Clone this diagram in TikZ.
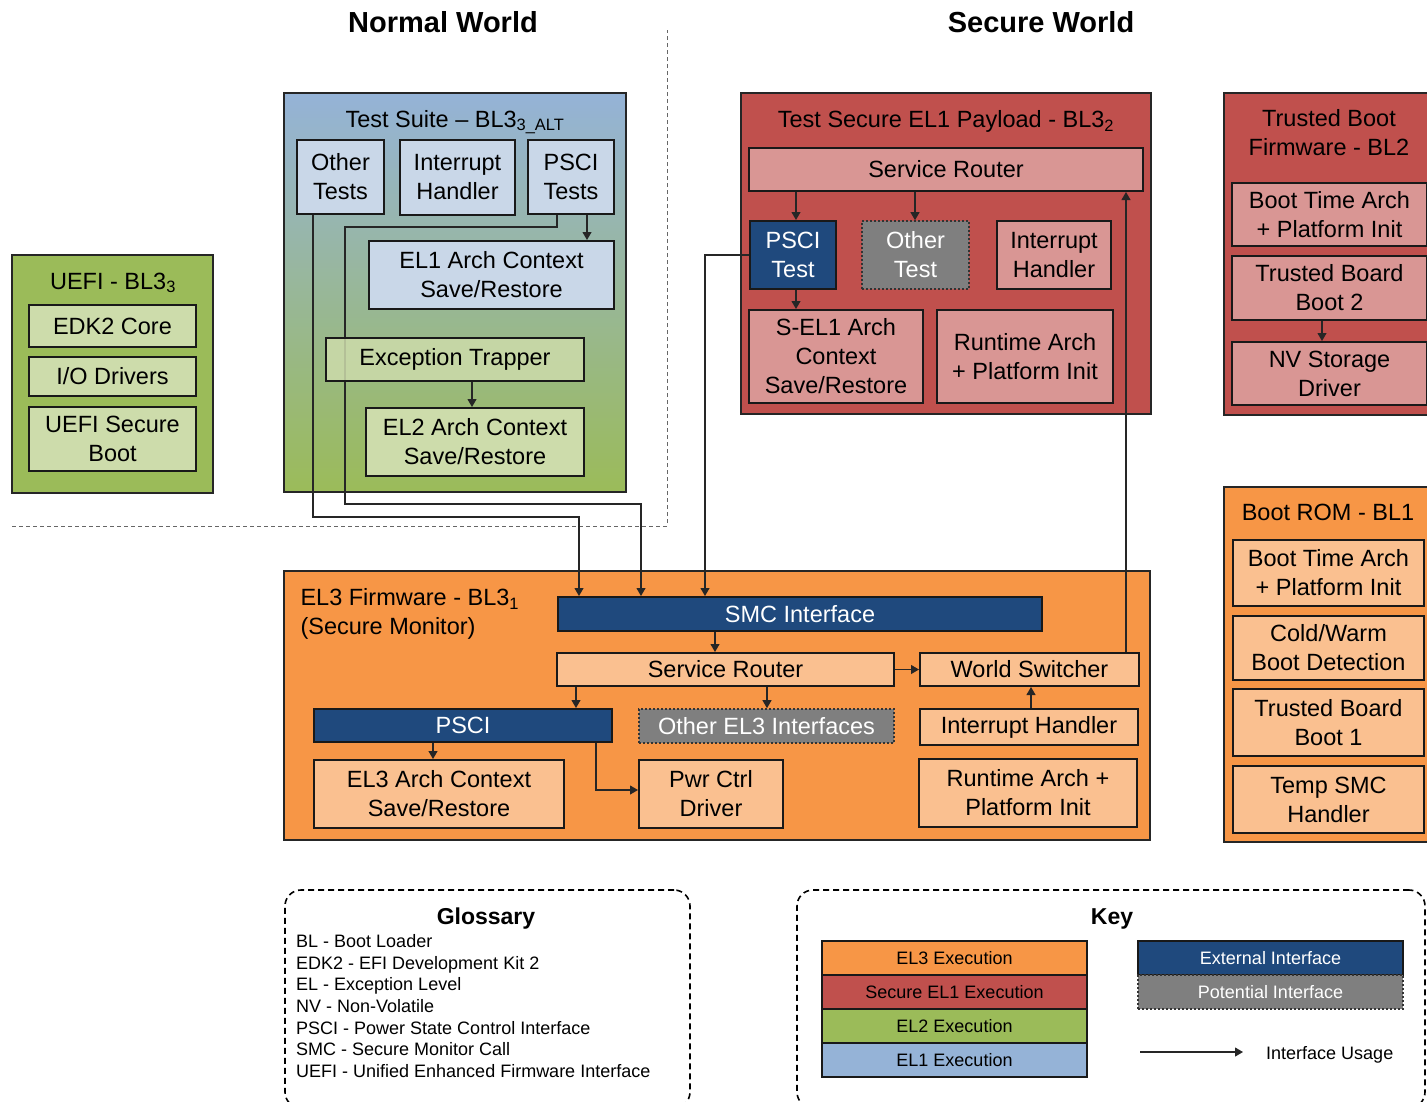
\documentclass[tikz,border=0pt]{standalone}
\usepackage{fontspec}
\setmainfont{Liberation Sans}
\usetikzlibrary{arrows.meta}
\definecolor{orng}{HTML}{F79646}
\definecolor{lorng}{HTML}{FAC090}
\definecolor{redc}{HTML}{C0504D}
\definecolor{pinkc}{HTML}{D99694}
\definecolor{grnc}{HTML}{9BBB59}
\definecolor{lgrn}{HTML}{CDDCAB}
\definecolor{bluec}{HTML}{95B3D7}
\definecolor{lblue}{HTML}{C9D7E8}
\definecolor{dblue}{HTML}{1F497D}
\definecolor{grayc}{HTML}{7F7F7F}
\begin{document}
\begin{tikzpicture}[x=1pt,y=-1pt,
  lbl/.style={font=\fontsize{23.5}{29}\selectfont},
  sml/.style={font=\fontsize{18}{21.7}\selectfont},
  box/.style={draw=black!90, line width=2pt, inner sep=0pt, align=center, lbl},
  cont/.style={draw=black!85, line width=2pt, inner sep=0pt},
  conn/.style={draw=black!85, line width=1.1pt, -{Triangle[length=8pt,width=9pt]}},
  dotbox/.style={box, draw=black!80, line width=1.6pt, dash pattern=on 1.6pt off 2.4pt, fill=grayc, text=white},
  sz/.style 2 args={minimum width=#1pt, minimum height=#2pt},
  keybox/.style={draw=black!90, line width=2pt, inner sep=0pt, sml, minimum width=265pt, minimum height=34pt},
  framebox/.style={draw=black, line width=1.6pt, dash pattern=on 6pt off 4pt, rounded corners=16pt, inner sep=0pt},
  head/.style={font=\fontsize{29}{34}\selectfont\bfseries},
  subhead/.style={font=\fontsize{23}{28}\selectfont\bfseries}]
\path[use as bounding box, clip] (0,0) rectangle (1427,1101);

% headers
\node[head] (nw) at (443,22) {Normal World};
\node[head] (sw) at (1041,22) {Secure World};

% separators
\draw[black!60, line width=1pt, dash pattern=on 4pt off 3pt] (12,526) -- (667,526) -- (667,30);

% containers
\node[cont, fill=grnc, sz={201}{238}] (uefi) at (112.5,374) {};
\node[cont, top color=bluec, bottom color=grnc, sz={342}{399}] (ts) at (455,292.5) {};
\node[cont, fill=redc, sz={410}{321}] (tsp) at (946,253.5) {};
\node[cont, fill=redc, sz={212}{322}] (bl2) at (1330,254) {};
\node[cont, fill=orng, sz={212}{355}] (bl1) at (1330,664.5) {};
\node[cont, fill=orng, sz={866}{269}] (el3) at (717,705.5) {};

% titles
\node[lbl] (uefit) at (113,283) {UEFI - BL3\textsubscript{3}};
\node[lbl] (tst) at (455,122) {Test Suite – BL3\textsubscript{3\_ALT}};
\node[lbl] (tspt) at (946,121.5) {Test Secure EL1 Payload - BL3\textsubscript{2}};
\node[lbl, align=center] (bl2t) at (1329,133) {Trusted Boot\\Firmware - BL2};
\node[lbl] (bl1t) at (1328,512) {Boot ROM - BL1};
\node[lbl, anchor=west, align=left] (el3t) at (297,614) {EL3 Firmware - BL3\textsubscript{1}\\(Secure Monitor)};

% UEFI
\node[box, fill=lgrn, sz={167}{42}] (edk2) at (112.5,326) {EDK2 Core};
\node[box, fill=lgrn, sz={167}{39}] (iodrv) at (112.5,376.5) {I/O Drivers};
\node[box, fill=lgrn, sz={167}{64}] (uefisb) at (112.5,439) {UEFI Secure\\Boot};

% Test suite
\node[box, fill=lblue, sz={87}{74}] (othertests) at (340.5,177) {Other\\Tests};
\node[box, fill=lblue, sz={115}{75}] (tsint) at (457.5,177.5) {Interrupt\\Handler};
\node[box, fill=lblue, sz={86}{74}] (pscit) at (571,177) {PSCI\\Tests};
\node[box, fill=lblue, sz={245}{68}] (el1ctx) at (491.5,275) {EL1 Arch Context\\Save/Restore};

% Secure payload
\node[box, fill=pinkc, sz={394}{43}] (tspsr) at (946,169.5) {Service Router};
\node[box, fill=dblue, text=white, sz={86}{68}] (tsppsci) at (793,255) {PSCI\\Test};
\node[dotbox, sz={107}{68}] (tspother) at (915.5,255) {Other\\Test};
\node[box, fill=pinkc, sz={114}{68}] (tspint) at (1054,255) {Interrupt\\Handler};
\node[box, fill=pinkc, sz={174}{93}] (tspsel1) at (836,356.5) {S-EL1 Arch\\Context\\Save/Restore};
\node[box, fill=pinkc, sz={176}{93}] (tsprt) at (1025,356.5) {Runtime Arch\\+ Platform Init};

% BL2
\node[box, fill=pinkc, sz={195}{63}] (bl2bt) at (1329.5,214.5) {Boot Time Arch\\+ Platform Init};
\node[box, fill=pinkc, sz={195}{64}] (bl2tbb) at (1329.5,288) {Trusted Board\\Boot 2};
\node[box, fill=pinkc, sz={195}{63}] (bl2nv) at (1329.5,373.5) {NV Storage\\Driver};

% BL1
\node[box, fill=lorng, sz={191}{66}] (bl1bt) at (1328.5,573) {Boot Time Arch\\+ Platform Init};
\node[box, fill=lorng, sz={191}{64}] (bl1cw) at (1328.5,648) {Cold/Warm\\Boot Detection};
\node[box, fill=lorng, sz={191}{67}] (bl1tbb) at (1328.5,722.5) {Trusted Board\\Boot 1};
\node[box, fill=lorng, sz={191}{67}] (bl1smc) at (1328.5,799.5) {Temp SMC\\Handler};

% EL3
\node[box, fill=dblue, text=white, sz={484}{34}] (smc) at (800,614) {SMC Interface};
\node[box, fill=lorng, sz={337}{33}] (el3sr) at (725.5,669.5) {Service Router};
\node[box, fill=lorng, sz={219}{33}] (ws) at (1029.5,669.5) {World Switcher};
\node[box, fill=dblue, text=white, sz={298}{33}] (el3psci) at (463,725.5) {PSCI};
\node[dotbox, sz={255}{34}] (el3other) at (766.5,726) {Other EL3 Interfaces};
\node[box, fill=lorng, sz={218}{36}] (el3int) at (1029,727) {Interrupt Handler};
\node[box, fill=lorng, sz={250}{68}] (el3ctx) at (439,794) {EL3 Arch Context\\Save/Restore};
\node[box, fill=lorng, sz={144}{68}] (pwr) at (711,794) {Pwr Ctrl\\Driver};
\node[box, fill=lorng, sz={218}{68}] (el3rt) at (1028,793) {Runtime Arch +\\Platform Init};

% long connectors from the test suite
\coordinate (a1) at (313,517);
\coordinate (a2) at (579,517);
\draw[conn] (othertests.south -| a1) -- (a1) -- (a2) -- (smc.north -| a2);
\coordinate (b1) at (557,227);
\coordinate (b2) at (345,227);
\coordinate (b3) at (345,504);
\coordinate (b4) at (641,504);
\draw[conn] (pscit.south -| b1) -- (b1) -- (b2) -- (b3) -- (b4) -- (smc.north -| b4);

\node[box, fill=lgrn, fill opacity=0.85, text opacity=1, sz={258}{43}] (exctrap) at (455,359.5) {Exception Trapper};
\node[box, fill=lgrn, sz={218}{68}] (el2ctx) at (475,442) {EL2 Arch Context\\Save/Restore};

% other connectors
\coordinate (c587) at (587,0);
\draw[conn] (pscit.south -| c587) -- (el1ctx.north -| c587);
\coordinate (c472) at (472,0);
\draw[conn] (exctrap.south -| c472) -- (el2ctx.north -| c472);

\coordinate (q1) at (705,255);
\draw[conn] (tsppsci.west) -- (q1) -- (smc.north -| q1);

\coordinate (c796) at (796,0);
\draw[conn] (tspsr.south -| c796) -- (tsppsci.north -| c796);
\coordinate (c915) at (915,0);
\draw[conn] (tspsr.south -| c915) -- (tspother.north -| c915);
\draw[conn] (tsppsci.south -| c796) -- (tspsel1.north -| c796);

\coordinate (c1126) at (1126,0);
\draw[conn] (ws.north -| c1126) -- (tspsr.south -| c1126);

\coordinate (c715) at (715,0);
\draw[conn] (smc.south -| c715) -- (el3sr.north -| c715);
\draw[conn] (el3sr.east) -- (ws.west);
\coordinate (c576) at (576,0);
\draw[conn] (el3sr.south -| c576) -- (el3psci.north -| c576);
\coordinate (c767) at (767,0);
\draw[conn] (el3sr.south -| c767) -- (el3other.north -| c767);
\coordinate (c1031) at (1031,0);
\draw[conn] (el3int.north -| c1031) -- (ws.south -| c1031);
\coordinate (c433) at (433,0);
\draw[conn] (el3psci.south -| c433) -- (el3ctx.north -| c433);
\coordinate (r1) at (596,790);
\draw[conn] (el3psci.south -| r1) -- (r1) -- (pwr.west |- r1);

\coordinate (c1322) at (1322,0);
\draw[conn] (bl2tbb.south -| c1322) -- (bl2nv.north -| c1322);

% glossary
\node[framebox, sz={405}{218}] (gloss) at (487.5,999) {};
\node[subhead] (glosst) at (486,918.5) {Glossary};
\foreach \t [count=\i from 0] in {BL - Boot Loader, EDK2 - EFI Development Kit 2, EL - Exception Level, NV - Non-Volatile, PSCI - Power State Control Interface, SMC - Secure Monitor Call, UEFI - Unified Enhanced Firmware Interface}
  \node[sml, anchor=base west, inner sep=0pt] (g\i) at (296,{947.5+21.67*\i}) {\t};

% key
\node[framebox, sz={628}{218}] (key) at (1111,999) {};
\node[subhead] (keyt) at (1112,918.5) {Key};
\node[keybox, fill=orng] (kel3) at (954.5,958) {EL3 Execution};
\node[keybox, fill=redc] (ksel1) at (954.5,992) {Secure EL1 Execution};
\node[keybox, fill=grnc] (kel2) at (954.5,1026) {EL2 Execution};
\node[keybox, fill=bluec] (kel1) at (954.5,1060) {EL1 Execution};
\node[keybox, fill=dblue, text=white] (kext) at (1270.5,958) {External Interface};
\node[keybox, fill=grayc, text=white, draw=black!80, line width=1.6pt, dash pattern=on 1.6pt off 2.4pt] (kpot) at (1270.5,992) {Potential Interface};
\coordinate (ka) at (1140,1052);
\coordinate (kb) at (1243,1052);
\draw[conn] (ka) -- (kb);
\node[sml, anchor=base west, inner sep=0pt] (kusage) at (1266,1059) {Interface Usage};
\end{tikzpicture}
\end{document}
